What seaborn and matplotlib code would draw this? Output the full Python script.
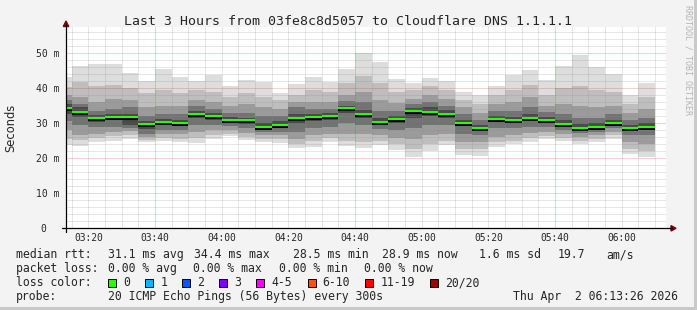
import numpy as np
import pandas as pd
import matplotlib
matplotlib.use("Agg")
import matplotlib.pyplot as plt
import matplotlib.patheffects as pe
from matplotlib.patches import Rectangle, Polygon
from matplotlib.lines import Line2D
from matplotlib.transforms import ScaledTranslation
import seaborn as sns

# ---------------- data (ms) ----------------
# bin end times, minutes after 03:00 (03:15 ... 06:10, one bin per 300 s)
bin_end = list(range(15, 195, 5))
median = [34.3, 33.3, 31.5, 31.7, 31.7, 29.7, 30.4, 30.1, 32.7, 32.0,
          30.9, 30.9, 28.9, 29.5, 31.4, 31.7, 32.0, 34.3, 32.7, 30.4,
          31.2, 33.5, 33.2, 32.7, 30.1, 28.6, 31.2, 30.9, 31.6, 30.9,
          29.7, 28.6, 29.0, 30.1, 28.6, 29.0]
p01 = [23.8, 23.5, 24.7, 25.0, 25.5, 24.7, 25.0, 24.7, 24.4, 25.5,
       26.3, 25.1, 24.6, 24.4, 22.8, 23.3, 24.6, 23.5, 22.8, 23.8,
       22.3, 20.4, 22.0, 23.8, 20.9, 20.6, 23.3, 24.0, 24.7, 25.4,
       25.0, 24.0, 24.7, 25.6, 21.2, 20.4]
p03 = [25.5, 25.2, 25.8, 26.2, 26.5, 25.3, 25.8, 25.6, 25.8, 26.5,
       27.0, 26.0, 25.5, 25.5, 24.0, 24.8, 25.8, 25.0, 24.5, 25.0,
       24.0, 22.5, 24.0, 25.0, 22.5, 22.5, 24.5, 25.0, 25.8, 26.2,
       25.8, 25.0, 25.5, 26.5, 22.5, 22.0]
p05 = [28.0, 26.5, 27.0, 27.5, 27.8, 26.0, 26.8, 26.8, 27.5, 28.0,
       28.0, 27.2, 26.5, 26.5, 25.5, 26.5, 27.0, 27.0, 27.0, 26.5,
       25.8, 25.5, 26.5, 27.0, 24.5, 24.5, 26.0, 26.5, 27.2, 27.5,
       26.8, 26.0, 26.5, 27.5, 24.5, 24.0]
p07 = [30.5, 29.5, 28.8, 29.0, 28.5, 27.0, 28.0, 28.0, 29.5, 29.5,
       29.2, 28.5, 27.5, 27.5, 27.5, 28.5, 28.8, 30.0, 29.5, 28.2,
       28.0, 28.5, 29.5, 29.5, 27.0, 26.5, 28.5, 28.5, 29.0, 29.0,
       28.0, 27.2, 27.5, 28.5, 26.5, 26.5]
p09 = [32.5, 31.8, 30.4, 30.8, 29.5, 28.2, 29.5, 29.3, 31.5, 31.0,
       30.2, 29.8, 28.3, 28.7, 30.0, 30.5, 30.8, 33.0, 31.5, 29.6,
       30.0, 31.5, 32.0, 31.5, 29.2, 27.8, 30.2, 30.0, 30.8, 30.2,
       29.0, 28.0, 28.3, 29.5, 27.8, 28.0]
p12 = [35.5, 34.5, 32.2, 32.5, 32.5, 30.6, 31.2, 31.0, 33.5, 32.8,
       31.8, 31.6, 30.0, 30.5, 32.5, 32.5, 32.8, 35.0, 33.8, 31.5,
       32.0, 34.3, 34.5, 33.8, 31.0, 29.5, 32.0, 31.8, 32.5, 31.8,
       30.8, 29.8, 30.0, 31.0, 29.5, 30.0]
p14 = [36.5, 35.5, 33.5, 34.0, 34.5, 32.0, 32.5, 32.5, 34.8, 34.0,
       33.0, 33.0, 32.0, 32.0, 34.5, 34.0, 34.0, 36.3, 36.0, 33.5,
       33.5, 35.5, 36.0, 35.0, 32.5, 31.0, 33.5, 33.5, 34.5, 33.2,
       32.5, 31.5, 31.5, 32.5, 31.0, 31.5]
p16 = [38.0, 37.5, 36.0, 37.0, 36.5, 34.5, 35.0, 35.0, 36.5, 36.0,
       35.0, 35.5, 34.5, 34.0, 36.0, 36.0, 36.0, 38.0, 39.0, 36.5,
       35.8, 37.0, 38.0, 37.0, 34.5, 33.0, 35.5, 36.0, 37.5, 35.0,
       35.5, 35.0, 34.5, 35.0, 33.0, 34.0]
p18 = [40.4, 41.8, 40.5, 41.0, 40.0, 38.5, 39.5, 38.5, 39.5, 39.0,
       37.5, 38.5, 37.5, 36.5, 38.0, 39.5, 39.0, 41.5, 43.5, 41.5,
       39.0, 39.5, 40.5, 39.5, 36.5, 35.5, 38.0, 39.5, 41.0, 38.0,
       40.0, 40.5, 39.5, 39.0, 35.5, 37.5]
p20 = [43.2, 46.3, 46.9, 46.9, 44.3, 42.0, 45.4, 43.2, 42.0, 43.8,
       40.6, 42.2, 41.8, 38.7, 41.2, 43.2, 41.8, 45.4, 49.9, 47.4,
       42.5, 41.5, 43.0, 42.0, 38.9, 37.9, 40.6, 43.8, 45.2, 42.3,
       46.3, 49.5, 46.1, 43.9, 38.1, 41.5]

xtick_pos = [20, 40, 60, 80, 100, 120, 140, 160, 180]
xtick_labels = ["03:20", "03:40", "04:00", "04:20", "04:40",
                "05:00", "05:20", "05:40", "06:00"]
ytick_pos = [0, 10, 20, 30, 40, 50]
ytick_labels = ["0", "10 m", "20 m", "30 m", "40 m", "50 m"]

title = "Last 3 Hours from 03fe8c8d5057 to Cloudflare DNS 1.1.1.1"
row_rtt = ["median rtt:", "31.1 ms avg", "34.4 ms max", "28.5 ms min",
           "28.9 ms now", "1.6 ms sd", "19.7", "am/s"]
row_loss = ["packet loss:", "0.00 % avg", "0.00 % max", "0.00 % min",
            "0.00 % now"]
loss_labels = ["0", "1", "2", "3", "4-5", "6-10", "11-19", "20/20"]
loss_colors = ["#26ff00", "#00b8ff", "#0059ff", "#7e00ff", "#ff00ff",
               "#ff5500", "#ff0000", "#a10000"]
probe_text = "20 ICMP Echo Pings (56 Bytes) every 300s"
date_text = "Thu Apr  2 06:13:26 2026"

# ---------------- figure ----------------
W, H = 697, 310
sns.set_style("white")
plt.rcParams["font.family"] = ["DejaVu Sans Mono"]

fig = plt.figure(figsize=(W / 100, H / 100), dpi=100, facecolor="#f3f3f3")

def fx(x):
    return x / W

def fy(y):
    return 1 - y / H

ax_left, ax_right, ax_top, ax_bot = 66.0, 666.0, 26.5, 228.3
ax = fig.add_axes([fx(ax_left), fy(ax_bot), (ax_right - ax_left) / W,
                   (ax_bot - ax_top) / H])
ax.set_facecolor("white")
for s in ax.spines.values():
    s.set_visible(False)

lefts = np.array(bin_end) - 5
bands = [(p01, p20, "#dddddd"), (p03, p18, "#bebebe"), (p05, p16, "#9b9b9b"),
         (p07, p14, "#737373"), (p09, p12, "#4a4a4a")]
for k, (lo, hi, c) in enumerate(bands):
    lo = np.array(lo)
    hi = np.array(hi)
    ax.bar(lefts, hi - lo, bottom=lo, width=5, align="edge", color=c,
           linewidth=0, zorder=1 + k * 0.01)

# grid (rrdtool style dotted)
gray_grid = (0.55, 0.55, 0.55, 0.42)
red_grid = (0.87, 0.2, 0.2, 0.45)
for m in range(15, 195, 5):
    col = red_grid if m in (40, 100, 160) else gray_grid
    ax.axvline(m, color=col, lw=0.72, ls=(0, (1, 1)), zorder=2)
for v in range(2, 58, 2):
    col = red_grid if v % 10 == 0 else gray_grid
    ax.axhline(v, color=col, lw=0.72, ls=(0, (1, 1)), zorder=2)

# median line with black shadow
rows = []
for j, (e, m) in enumerate(zip(bin_end, median)):
    rows.append({"t": e - 5, "ms": m, "bin": j})
    rows.append({"t": e, "ms": m, "bin": j})
df = pd.DataFrame(rows)
sns.lineplot(data=df, x="t", y="ms", units="bin", estimator=None,
             color="#26ff00", lw=1.5, ax=ax, legend=False, zorder=4,
             solid_capstyle="butt",
             path_effects=[pe.Stroke(linewidth=2.9, foreground="black",
                                     offset=(0, -0.8)), pe.Normal()])
ax.set_xlabel("")
ax.set_ylabel("")

ax.set_xlim(13.29, 193.29)
ax.set_ylim(0, 57.56)

ax.set_xticks(xtick_pos, xtick_labels)
ax.set_yticks(ytick_pos, ytick_labels)
ax.set_yticks(range(0, 58, 2), minor=True)
ax.tick_params(axis="x", which="major", length=2.2, width=0.72, pad=1.5,
               labelsize=6.9, direction="out", color="black")
ax.tick_params(axis="y", which="major", length=2.2, width=0.72, pad=2.5,
               labelsize=7.0, direction="out", color="black")
ax.tick_params(axis="y", which="minor", length=1.2, width=0.72,
               direction="out", color="black")
ax.tick_params(axis="x", which="minor", length=0)
zero_lbl = ax.get_yticklabels()[0]
zero_lbl.set_transform(zero_lbl.get_transform() +
                       ScaledTranslation(-0.13, 0, fig.dpi_scale_trans))

# axis lines with arrows
fig.add_artist(Line2D([fx(61.7), fx(672)], [fy(ax_bot), fy(ax_bot)],
                      color="black", lw=0.9, transform=fig.transFigure))
fig.add_artist(Line2D([fx(ax_left), fx(ax_left)], [fy(231.5), fy(24)],
                      color="black", lw=0.9, transform=fig.transFigure))
fig.add_artist(Polygon([[fx(671), fy(225.6)], [fx(671), fy(231.0)],
                        [fx(676), fy(ax_bot)]], closed=True,
                       color="#800000", transform=fig.transFigure))
fig.add_artist(Polygon([[fx(63.3), fy(26.5)], [fx(68.7), fy(26.5)],
                        [fx(ax_left), fy(21)]], closed=True,
                       color="#800000", transform=fig.transFigure))

# borders
fig.add_artist(Rectangle((fx(694), 0), 3 / W, 1, color="#c9c9c9",
                         transform=fig.transFigure, lw=0))
fig.add_artist(Rectangle((0, 0), 1, 3 / H, color="#c9c9c9",
                         transform=fig.transFigure, lw=0))

# texts
fig.text(fx(347.7), fy(25), title, ha="center", va="baseline", fontsize=9.5)
fig.text(fx(10.7), fy(127.5), "Seconds", rotation=90, ha="center",
         va="center", fontsize=8.3, family=["DejaVu Sans"])
fig.text(fx(688.3), fy(60), "RRDTOOL / TOBI OETIKER", rotation=270,
         ha="center", va="center", fontsize=6.0, color="#b4b4b4")

LS = 8.3
xs_rtt = [15.6, 107.6, 194.2, 293.3, 382.2, 479.1, 557.8, 606.7]
for t, x in zip(row_rtt, xs_rtt):
    fig.text(fx(x), fy(258.3), t, fontsize=LS, va="baseline")
xs_loss = [15.6, 107.6, 193.3, 279.1, 364.4]
for t, x in zip(row_loss, xs_loss):
    fig.text(fx(x), fy(272.3), t, fontsize=LS, va="baseline")
fig.text(fx(15.6), fy(286.3), "loss color:", fontsize=LS, va="baseline")
box_x = [108, 145.3, 182.2, 219.1, 256.4, 307.6, 365.3, 429.8]
for lbl, c, bx in zip(loss_labels, loss_colors, box_x):
    fig.add_artist(Rectangle((fx(bx), fy(286.5)), 8 / W, 8 / H,
                             facecolor=c, edgecolor="black", lw=0.7,
                             transform=fig.transFigure))
    fig.text(fx(bx + 15), fy(286.3), lbl, fontsize=LS, va="baseline")
fig.text(fx(15.6), fy(300.3), "probe:", fontsize=LS, va="baseline")
fig.text(fx(107.6), fy(300.3), probe_text, fontsize=LS, va="baseline")
fig.text(fx(513.3), fy(300.3), date_text, fontsize=LS, va="baseline")

fig.savefig("out.png", dpi=100, facecolor=fig.get_facecolor())
